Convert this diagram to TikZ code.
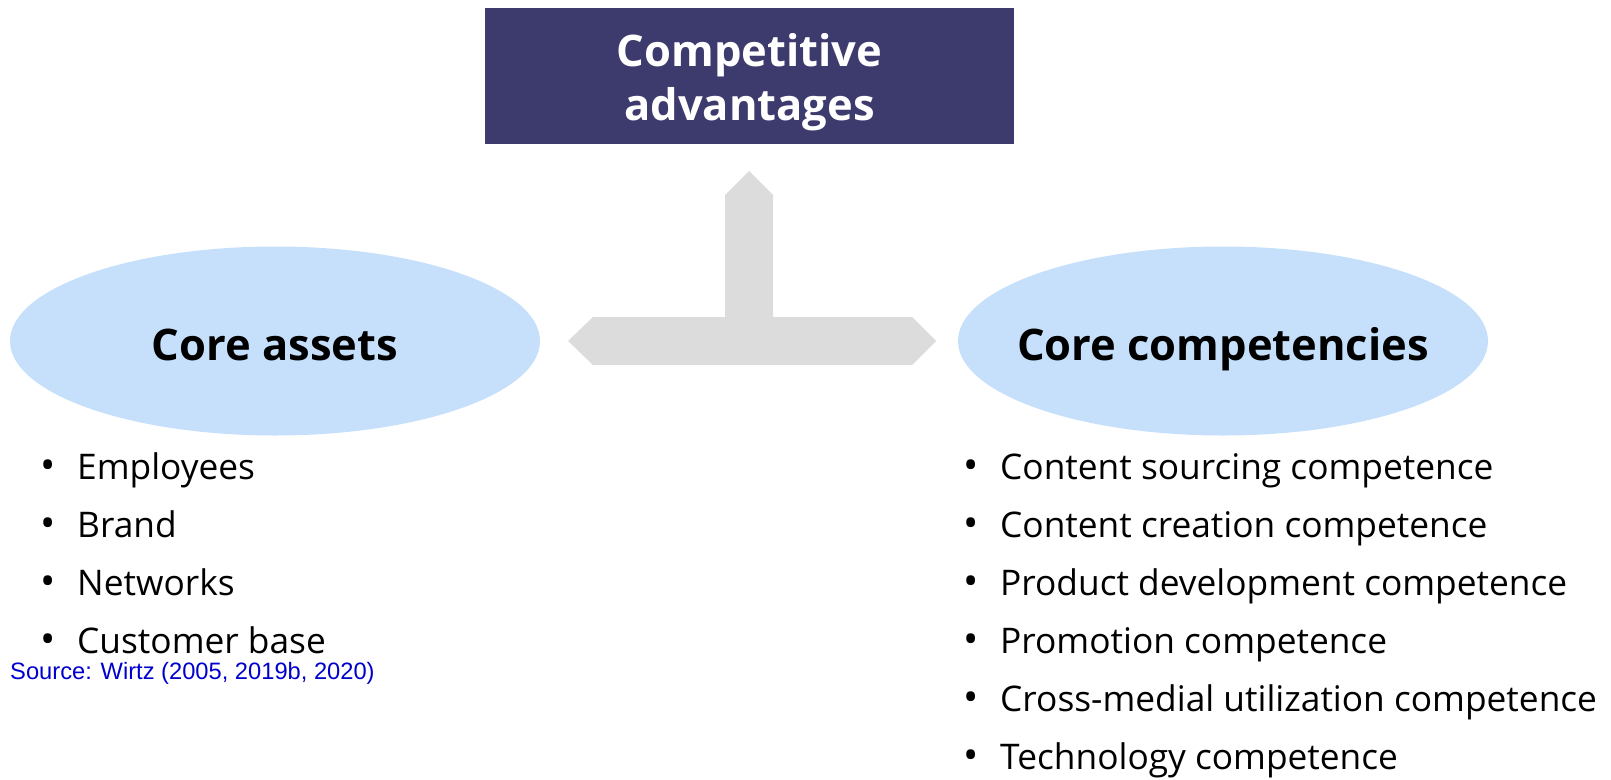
\documentclass[tikz,border=0pt]{standalone}
\usepackage{fontspec}
\setmainfont{Open Sans}
\newfontfamily\srcfont{Liberation Sans}
\usetikzlibrary{shapes.geometric}
\definecolor{titlebg}{HTML}{3D3B6E}
\definecolor{ellfill}{HTML}{C6E0FB}
\definecolor{arrgray}{HTML}{DCDCDC}
\definecolor{srcblue}{HTML}{0000CC}
\tikzset{
  titlebox/.style={fill=titlebg, rectangle, inner sep=0pt, minimum width=529pt, minimum height=136pt},
  titletext/.style={text=white, align=center, inner sep=0pt, font=\fontsize{43.5}{54}\selectfont\bfseries},
  ellbox/.style={ellipse, fill=ellfill, inner sep=0pt, minimum width=530pt, minimum height=189pt},
  elltext/.style={anchor=base, inner sep=0pt, font=\fontsize{43.5}{50}\selectfont\bfseries},
  item/.style={anchor=base west, inner sep=0pt, font=\fontsize{35.3}{40}\selectfont},
  srctext/.style={anchor=base west, inner sep=0pt, text=srcblue, font=\srcfont\fontsize{23.7}{28}\selectfont},
}
\newcommand{\bul}[1]{\makebox[37pt][l]{\scalebox{1.15}{\textbullet}}#1}
\begin{document}
\begin{tikzpicture}[x=1pt,y=-1pt]
\useasboundingbox (0,0) rectangle (1611,779);
% T-shaped arrow
\fill[arrgray] (749,171) -- (773,195) -- (773,317) -- (912,317) -- (936,341) -- (912,365)
  -- (593,365) -- (568,341) -- (593,317) -- (725,317) -- (725,195) -- cycle;
% title
\node[titlebox] (adv) at (749.5,76) {};
\node[titletext] (advtext) at (749.5,82) {Competitive\\advantages};
% ellipses
\node[ellbox] (assets) at (275,341) {};
\node[elltext] (assetslabel) at (275,360) {Core assets};
\node[ellbox] (comp) at (1223,341) {};
\node[elltext] (complabel) at (1223,360) {Core competencies};
% left list
\node[item] (a1) at (40,479) {\bul{Employees}};
\node[item] (a2) at (40,537) {\bul{Brand}};
\node[item] (a3) at (40,595) {\bul{Networks}};
\node[item] (a4) at (40,653) {\bul{Customer base}};
% right list
\node[item] (c1) at (963,479) {\bul{Content sourcing competence}};
\node[item] (c2) at (963,537) {\bul{Content creation competence}};
\node[item] (c3) at (963,595) {\bul{Product development competence}};
\node[item] (c4) at (963,653) {\bul{Promotion competence}};
\node[item] (c5) at (963,711) {\bul{Cross-medial utilization competence}};
\node[item] (c6) at (963,769) {\bul{Technology competence}};
% source
\node[srctext] (src) at (10,679) {Source: Wirtz (2005, 2019b, 2020)};
\end{tikzpicture}
\end{document}
